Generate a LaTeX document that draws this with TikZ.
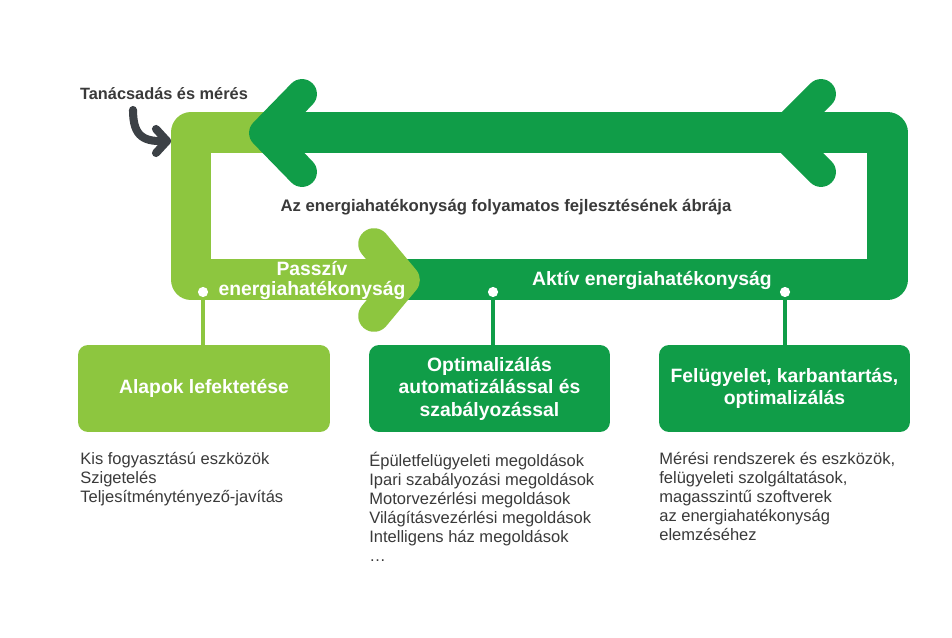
\documentclass[tikz,border=0pt]{standalone}
\usepackage{fontspec}
\setmainfont{Liberation Sans}
\usetikzlibrary{positioning}
\definecolor{selight}{HTML}{8DC63F}
\definecolor{sedark}{HTML}{109D48}
\definecolor{setext}{HTML}{3A3A3A}
\definecolor{searrow}{HTML}{3C4146}

\begin{document}
\begin{tikzpicture}[x=0.02cm,y=-0.02cm,
  band/.style={line width=23.2pt,line join=round},
  chev/.style={line width=#1,line cap=round,line join=round},
  stepbox/.style={rounded corners=5.7pt,minimum height=1.74cm,text=white,
    font=\bfseries\fontsize{11}{12.8}\selectfont,align=center},
  joint/.style={circle,fill=white,inner sep=0pt,minimum size=5.8pt},
  listtext/.style={anchor=north west,align=left,inner sep=0pt,text=setext,
    font=\fontsize{9.4}{10.8}\selectfont},
  bandtext/.style={text=white,align=center,font=\bfseries\fontsize{11}{11.4}\selectfont}]
\useasboundingbox[fill=white] (0,0) rectangle (952,638);
% the two loops
\draw[selight,band] (290,132.5) -- (191,132.5) -- (191,279.5) -- (398,279.5);
\draw[sedark,band] (404,279.5) -- (887.5,279.5) -- (887.5,132.5) -- (266,132.5);
\draw[sedark,chev=17pt] (302,94) -- (264,133) -- (302,172);
\draw[sedark,chev=17pt] (821,94) -- (782,133) -- (821,172);
\draw[selight,chev=18pt] (374,244) -- (404,280) -- (374,316);
\node[bandtext] (passziv) at (312,280) {Passzív\\energiahatékonyság};
\node[bandtext] (aktiv) at (652,280) {Aktív energiahatékonyság};
\node[text=setext,font=\bfseries\fontsize{9.5}{11}\selectfont] (cim) at (506,207)
  {Az energiahatékonyság folyamatos fejlesztésének ábrája};
% tanacsadas arrow
\node[text=setext,font=\bfseries\fontsize{9.3}{11}\selectfont] (tanacs) at (164,94)
  {Tanácsadás és mérés};
\coordinate (tstart) at (133,110);
\coordinate (tend) at (167,141);
\draw[searrow,line width=4.6pt,line cap=round] (tstart) .. controls (133,138) and (145,142) .. (tend);
\draw[searrow,chev=4.6pt] (156,129) -- (tend) -- (156,153);
% boxes
\node[stepbox,fill=selight,minimum width=5.04cm] (alap) at (204,388.5) {Alapok lefektetése};
\node[stepbox,fill=sedark,minimum width=4.82cm] (optim) at (489.5,388.5)
  {Optimalizálás\\automatizálással és\\szabályozással};
\node[stepbox,fill=sedark,minimum width=5.02cm] (felugy) at (784.5,388.5)
  {Felügyelet, karbantartás,\\optimalizálás};
\node[joint] (j1) at (203,292) {};
\node[joint] (j2) at (493,292) {};
\node[joint] (j3) at (785,292) {};
\draw[selight,line width=2pt] (j1) -- (j1 |- alap.north);
\draw[sedark,line width=2pt] (j2) -- (j2 |- optim.north);
\draw[sedark,line width=2pt] (j3) -- (j3 |- felugy.north);
% lists
\node[listtext] (lista) at (80,452) {Kis fogyasztású eszközök\\Szigetelés\\Teljesítménytényező-javítás};
\node[listtext] (listb) at (369,452) {Épületfelügyeleti megoldások\\Ipari szabályozási megoldások\\
  Motorvezérlési megoldások\\Világításvezérlési megoldások\\Intelligens ház megoldások\\\ldots};
\node[listtext] (listc) at (659,452) {Mérési rendszerek és eszközök,\\felügyeleti szolgáltatások,\\
  magasszintű szoftverek\\az energiahatékonyság\\elemzéséhez};
\end{tikzpicture}
\end{document}
